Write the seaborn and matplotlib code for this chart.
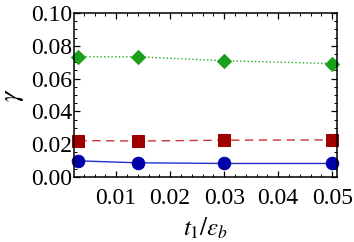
import numpy as np
import pandas as pd
import matplotlib
matplotlib.use("Agg")
import matplotlib.pyplot as plt
import seaborn as sns
from matplotlib.ticker import MultipleLocator

# data
t1 = [0.003, 0.014, 0.03, 0.05]
gamma_green = [0.0733, 0.0733, 0.0709, 0.0692]
gamma_red = [0.0222, 0.0219, 0.0224, 0.0226]
gamma_blue = [0.0098, 0.0086, 0.0082, 0.0082]
xticks = [0.01, 0.02, 0.03, 0.04, 0.05]
yticks = [0.00, 0.02, 0.04, 0.06, 0.08, 0.10]

sns.set_style("ticks")
plt.rcParams['font.family'] = ['Liberation Serif', 'DejaVu Serif']
plt.rcParams['mathtext.fontset'] = 'stix'
plt.rcParams['text.color'] = 'black'
plt.rcParams['axes.labelcolor'] = 'black'
plt.rcParams['xtick.labelcolor'] = 'black'
plt.rcParams['ytick.labelcolor'] = 'black'

fig = plt.figure(figsize=(3.54, 2.42), dpi=100)
ax = fig.add_axes([0.209, 0.269, 0.743, 0.677])

series = [
    (gamma_green, '#22aa22', 'D', ':', 7, '#1aa01a'),
    (gamma_red, '#cc3333', 's', (0, (6, 4)), 8, '#a00000'),
    (gamma_blue, '#2233cc', 'o', '-', 9, '#0000a8'),
]
for vals, lc, mk, ls, ms, mc in series:
    df = pd.DataFrame({'t1': t1, 'gamma': vals})
    sns.lineplot(data=df, x='t1', y='gamma', ax=ax, color=lc, linestyle=ls,
                 linewidth=1.0, marker=mk, markersize=ms,
                 markerfacecolor=mc, markeredgecolor=mc, clip_on=False)

ax.set_xlim(0.0022, 0.0509)
ax.set_ylim(0, 0.10)
ax.set_xticks(xticks)
ax.set_xticklabels([f"{v:.2f}" for v in xticks])
ax.set_yticks(yticks)
ax.set_yticklabels([f"{v:.2f}" for v in yticks])
ax.xaxis.set_minor_locator(MultipleLocator(0.002))
ax.yaxis.set_minor_locator(MultipleLocator(0.005))
ax.tick_params(which='both', direction='in', top=True, right=True,
               labelsize=17, color='black')
ax.tick_params(axis='y', pad=1)
ax.tick_params(axis='x', pad=8)
ax.tick_params(which='major', length=4, width=0.9)
ax.tick_params(which='minor', length=2, width=0.7)
for s in ax.spines.values():
    s.set_linewidth(1.1)
    s.set_color('black')

ax.set_xlabel(r'$t_1/\epsilon_b$', fontsize=18, labelpad=5)
ax.set_ylabel(r'$\gamma$', fontsize=19, labelpad=4)

fig.savefig('out.png', dpi=100)
